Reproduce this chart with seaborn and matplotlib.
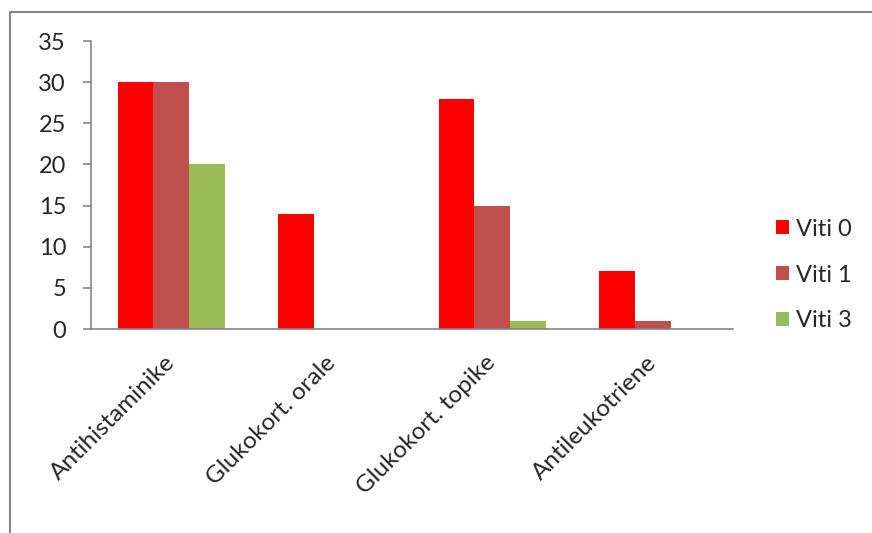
import pandas as pd
import matplotlib
matplotlib.use('Agg')
from matplotlib import pyplot as plt
from matplotlib.patches import Rectangle
import seaborn as sns

categories = ['Antihistaminike', 'Glukokort. orale', 'Glukokort. topike', 'Antileukotriene']
series = ['Viti 0', 'Viti 1', 'Viti 3']
viti_0 = [30, 14, 28, 7]
viti_1 = [30, 0, 15, 1]
viti_3 = [20, 0, 1, 0]
colors = ['#FF0000', '#C0504D', '#9BBB59']
y_ticks = [0, 5, 10, 15, 20, 25, 30, 35]

if __name__ == '__main__':
    df = pd.DataFrame({
        'kategoria': categories * 3,
        'viti': [s for s in series for _ in categories],
        'vlera': viti_0 + viti_1 + viti_3,
    })

    sns.set_style('white')
    plt.rcParams['font.family'] = ['Lato', 'DejaVu Sans']

    fig = plt.figure(figsize=(8.72, 5.33), dpi=100)
    ax = fig.add_axes([0.1044, 0.3827, 0.7362, 0.5403])

    sns.barplot(data=df, x='kategoria', y='vlera', hue='viti', palette=colors,
                width=0.67, saturation=1, linewidth=0, ax=ax)

    # osi y
    ax.set_ylim(0, 35)
    ax.set_yticks(y_ticks)
    ax.set_xlim(-0.5, len(categories) - 0.5)
    ax.set_xlabel('')
    ax.set_ylabel('')

    # vijat ndarese te kategorive
    ax.set_xticks([i - 0.5 for i in range(len(categories) + 1)], minor=True)
    ax.set_xticks(range(len(categories)))
    ax.set_xticklabels(categories, rotation=45, ha='right', va='center',
                       rotation_mode='anchor', fontsize=17.5)
    ax.tick_params(axis='x', which='major', length=0, pad=22)
    ax.tick_params(axis='x', which='minor', length=6, width=1.2, color='#868686', direction='out')
    ax.tick_params(axis='y', length=6, width=1.2, color='#868686', direction='out',
                   labelsize=17, pad=12, left=True)

    for side in ['top', 'right']:
        ax.spines[side].set_visible(False)
    for side in ['left', 'bottom']:
        ax.spines[side].set_color('#868686')
        ax.spines[side].set_linewidth(1.2)

    # legjenda
    handles, labels = ax.get_legend_handles_labels()
    ax.legend_.remove()
    fig.legend(handles, labels, loc='center left', bbox_to_anchor=(0.865, 0.484),
               frameon=False, fontsize=17, handlelength=0.55, handleheight=0.55,
               handletextpad=0.3, labelspacing=1.05)

    # korniza e grafikut
    fig.add_artist(Rectangle((0.0115, -0.1), 1.2, 1.0775, transform=fig.transFigure,
                             fill=False, edgecolor='#868686', linewidth=1.5))

    fig.savefig('out.png', dpi=100)
